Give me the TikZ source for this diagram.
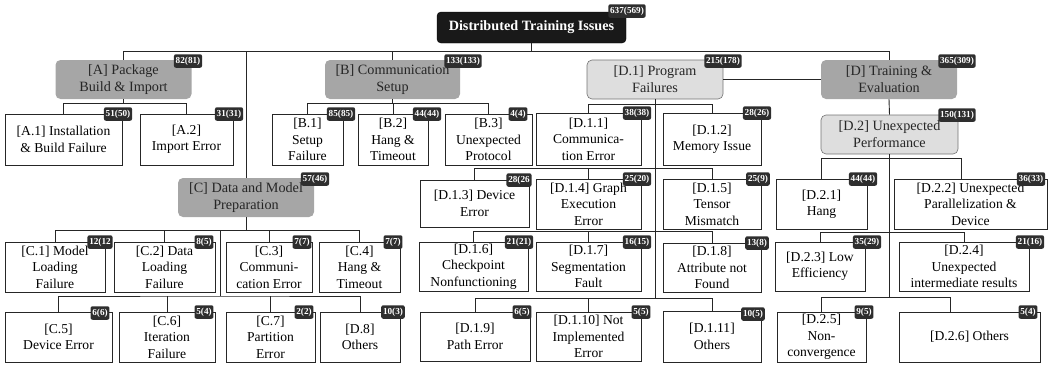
\documentclass[tikz,border=0pt]{standalone}
\usepackage{fontspec}
\setmainfont{Liberation Serif}
\usetikzlibrary{calc}

\begin{document}
\begin{tikzpicture}[x=1pt, y=-1pt,
	leaf/.style={draw=black!85, line width=0.9pt, fill=white, align=center, inner sep=0pt, font=\fontsize{13.6}{16.4}\selectfont},
	group/.style={fill=black!35, rounded corners=5pt, align=center, inner sep=0pt, text=black!85, font=\fontsize{14.2}{17}\selectfont, minimum width=136pt, minimum height=39pt},
	subgroup/.style={group, fill=black!13, draw=black!55, line width=0.6pt},
	badge/.style={fill=black!82, text=white, rounded corners=2pt, inner xsep=1.8pt, inner ysep=0pt, minimum height=13.5pt, font=\fontsize{9.2}{10}\bfseries\selectfont},
	wire/.style={draw=black!85, line width=0.9pt}]
	\useasboundingbox (0,0) rectangle (1052,365);

	\node (root) [fill=black!90, draw=black, rounded corners=4pt, text=white, inner sep=0pt, minimum width=189pt, minimum height=31pt, font=\fontsize{14.2}{17}\bfseries\selectfont] at (531.5,27.5) {Distributed Training Issues};
	\node (nroot) [badge] at (627,11) {637(569)};

	% Top level groups
	\node (A) [group] at (123.5,79.5) {[A] Package\\Build \& Import};
	\node (nA) [badge] at (188,61) {82(81)};
	\node (B) [group, minimum width=135pt] at (392.5,79.5) {[B] Communication\\Setup};
	\node (nB) [badge] at (463,61) {133(133)};
	\node (D1) [subgroup] at (655,79.5) {[D.1] Program\\Failures};
	\node (nD1) [badge] at (723,61) {215(178)};
	\node (D) [group] at (889,79.5) {[D] Training \&\\Evaluation};
	\node (nD) [badge] at (957,61) {365(309)};
	\node (D2) [subgroup, minimum width=137pt] at (889.5,134.5) {[D.2] Unexpected\\Performance};
	\node (nD2) [badge] at (957,115) {150(131)};
	\node (C) [group] at (246,197.5) {[C] Data and Model\\Preparation};
	\node (nC) [badge] at (315,179) {57(46)};

	% Package Build & Import
	\node (A1) [leaf, minimum width=117pt, minimum height=51pt] at (63.5,139.5) {[A.1] Installation\\\& Build Failure};
	\node (nA1) [badge] at (118,114) {51(50)};
	\node (A2) [leaf, minimum width=93pt, minimum height=51pt] at (186.5,139.5) {[A.2]\\Import Error};
	\node (nA2) [badge] at (229,114) {31(31)};

	% Communication Setup
	\node (B1) [leaf, minimum width=71pt, minimum height=51pt] at (307.5,139.5) {[B.1]\\Setup\\Failure};
	\node (nB1) [badge] at (341,114) {85(85)};
	\node (B2) [leaf, minimum width=70pt, minimum height=51pt] at (393,139.5) {[B.2]\\Hang \&\\Timeout};
	\node (nB2) [badge] at (427,114) {44(44)};
	\node (B3) [leaf, minimum width=87pt, minimum height=51pt] at (488.5,139.5) {[B.3]\\Unexpected\\Protocol};
	\node (nB3) [badge] at (518,114) {4(4)};

	% Program Failures
	\node (D11) [leaf, minimum width=105pt, minimum height=52pt] at (588.5,139) {[D.1.1]\\Communica-\\tion Error};
	\node (nD11) [badge] at (637,113) {38(38)};
	\node (D12) [leaf, minimum width=98pt, minimum height=52pt] at (712,139) {[D.1.2]\\Memory Issue};
	\node (nD12) [badge] at (757,113) {28(26)};
	\node (D13) [leaf, minimum width=109pt, minimum height=47pt] at (474.5,203.5) {[D.1.3] Device\\Error};
	\node (nD13) [badge] at (519,180) {28(26};
	\node (D14) [leaf, minimum width=105pt, minimum height=50pt] at (588.5,204) {[D.1.4] Graph\\Execution\\Error};
	\node (nD14) [badge] at (637,179) {25(20)};
	\node (D15) [leaf, minimum width=98pt, minimum height=50pt] at (712,204) {[D.1.5]\\Tensor\\Mismatch};
	\node (nD15) [badge] at (758,179) {25(9)};
	\node (D16) [leaf, minimum width=109pt, minimum height=49pt] at (473.5,266.5) {[D.1.6]\\Checkpoint\\Nonfunctioning};
	\node (nD16) [badge] at (519,242) {21(21)};
	\node (D17) [leaf, minimum width=105pt, minimum height=49pt] at (588.5,266.5) {[D.1.7]\\Segmentation\\Fault};
	\node (nD17) [badge] at (637,242) {16(15)};
	\node (D18) [leaf, minimum width=98pt, minimum height=49pt] at (712,267.5) {[D.1.8]\\Attribute not\\Found};
	\node (nD18) [badge] at (757,243) {13(8)};
	\node (D19) [leaf, minimum width=110pt, minimum height=49pt] at (475,336.5) {[D.1.9]\\Path Error};
	\node (nD19) [badge] at (522,312) {6(5)};
	\node (D110) [leaf, minimum width=105pt, minimum height=49pt] at (588.5,336.5) {[D.1.10] Not\\Implemented\\Error};
	\node (nD110) [badge] at (641,312) {5(5)};
	\node (D111) [leaf, minimum width=98pt, minimum height=51pt] at (712,336.5) {[D.1.11]\\Others};
	\node (nD111) [badge] at (753,314) {10(5)};

	% Unexpected Performance
	\node (D21) [leaf, minimum width=91pt, minimum height=50pt] at (821.5,204) {[D.2.1]\\Hang};
	\node (nD21) [badge] at (863,179) {44(44)};
	\node (D22) [leaf, minimum width=153pt, minimum height=50pt] at (970.5,204) {[D.2.2] Unexpected\\Parallelization \&\\Device};
	\node (nD22) [badge] at (1031,179) {36(33)};
	\node (D23) [leaf, minimum width=90pt, minimum height=49pt] at (820,266.5) {[D.2.3] Low\\Efficiency};
	\node (nD23) [badge] at (867,242) {35(29)};
	\node (D24) [leaf, minimum width=130pt, minimum height=49pt] at (964,266.5) {[D.2.4]\\Unexpected\\intermediate results};
	\node (nD24) [badge] at (1030,242) {21(16)};
	\node (D25) [leaf, minimum width=89pt, minimum height=50pt] at (821.5,337) {[D.2.5]\\Non-\\convergence};
	\node (nD25) [badge] at (864,312) {9(5)};
	\node (D26) [leaf, minimum width=141pt, minimum height=50pt] at (969.5,337) {[D.2.6] Others};
	\node (nD26) [badge] at (1028,312) {5(4)};

	% Data and Model Preparation
	\node (C1) [leaf, minimum width=100pt, minimum height=50pt] at (55,267) {[C.1] Model\\Loading\\Failure};
	\node (nC1) [badge] at (100,242) {12(12};
	\node (C2) [leaf, minimum width=101pt, minimum height=50pt] at (164.5,267) {[C.2] Data\\Loading\\Failure};
	\node (nC2) [badge] at (204,242) {8(5)};
	\node (C3) [leaf, minimum width=86pt, minimum height=50pt] at (269,267) {[C.3]\\Communi-\\cation Error};
	\node (nC3) [badge] at (302,242) {7(7)};
	\node (C4) [leaf, minimum width=81pt, minimum height=50pt] at (359.5,267) {[C.4]\\Hang \&\\Timeout};
	\node (nC4) [badge] at (393,242) {7(7)};
	\node (C5) [leaf, minimum width=107pt, minimum height=50pt] at (58.5,337) {[C.5]\\Device Error};
	\node (nC5) [badge] at (100,313) {6(6)};
	\node (C6) [leaf, minimum width=96pt, minimum height=50pt] at (167,337) {[C.6]\\Iteration\\Failure};
	\node (nC6) [badge] at (204,312) {5(4)};
	\node (C7) [leaf, minimum width=89pt, minimum height=50pt] at (270.5,337) {[C.7]\\Partition\\Error};
	\node (nC7) [badge] at (304,312) {2(2)};
	\node (D8) [leaf, minimum width=80pt, minimum height=50pt] at (360,337) {[D.8]\\Others};
	\node (nD8) [badge] at (393,312) {10(3)};

	% Connectors
	\draw [wire] (root.south) -- ++(0,8) coordinate (bus);
	\draw [wire] (A.north) |- (bus) -| (D.north);
	\draw [wire] (bus -| C.north) -- (C.north);
	\draw [wire] (bus -| B.north) -- (B.north);
	\draw [wire] (D1.east) -- (D.west);
	\draw [wire] (D.south) -- (D2.north);

	\draw [wire] (A.south) -- ++(0,4) coordinate (Abar);
	\draw [wire] (A1.north) |- (Abar) -| (A2.north);

	\draw [wire] (B.south) -- ++(0,4) coordinate (Bbar);
	\draw [wire] (B1.north) |- (Bbar) -| (B3.north);
	\draw [wire] (Bbar -| B2.north) -- (B2.north);

	\draw [wire] (C.south) -- ++(0,13) coordinate (Cbar);
	\draw [wire] (C1.north) |- (Cbar) -| (C4.north);
	\draw [wire] (Cbar -| C2.north) -- (C2.north);
	\draw [wire] (Cbar -| C3.north) -- (C3.north);
	\coordinate (Csplit) at (220,230);
	\coordinate (Crow) at (220,296);
	\draw [wire] (Csplit) -- (Crow);
	\draw [wire] (C5.north) |- (Crow) -| (D8.north);
	\draw [wire] (Crow -| C6.north) -- (C6.north);
	\draw [wire] (Crow -| C7.north) -- (C7.north);

	\draw [wire] (D1.south) -- ++(0,200);
	\draw [wire] (D11.north) -- ++(0,-8) -| (D12.north);
	\draw [wire] (D13.north) -- ++(0,-11) -| (D15.north);
	\draw [wire] (D14.north) -- ++(0,-10);
	\draw [wire] (D16.north) -- ++(0,-10) -| (D18.north);
	\draw [wire] (D17.north) -- ++(0,-10);
	\draw [wire] (D19.north) -- ++(0,-13) -| (D111.north);
	\draw [wire] (D110.north) -- ++(0,-13);

	\draw [wire] (D2.south) -- ++(0,144);
	\draw [wire] (D21.north) -- ++(0,-20) -| ([xshift=-9.5pt]D22.north);
	\draw [wire] (D23.north) -- ++(0,-9) -| (D24.north);
	\draw [wire] (D25.north) -- ++(0,-14) -| ([xshift=-19.5pt]D26.north);

\end{tikzpicture}
\end{document}
